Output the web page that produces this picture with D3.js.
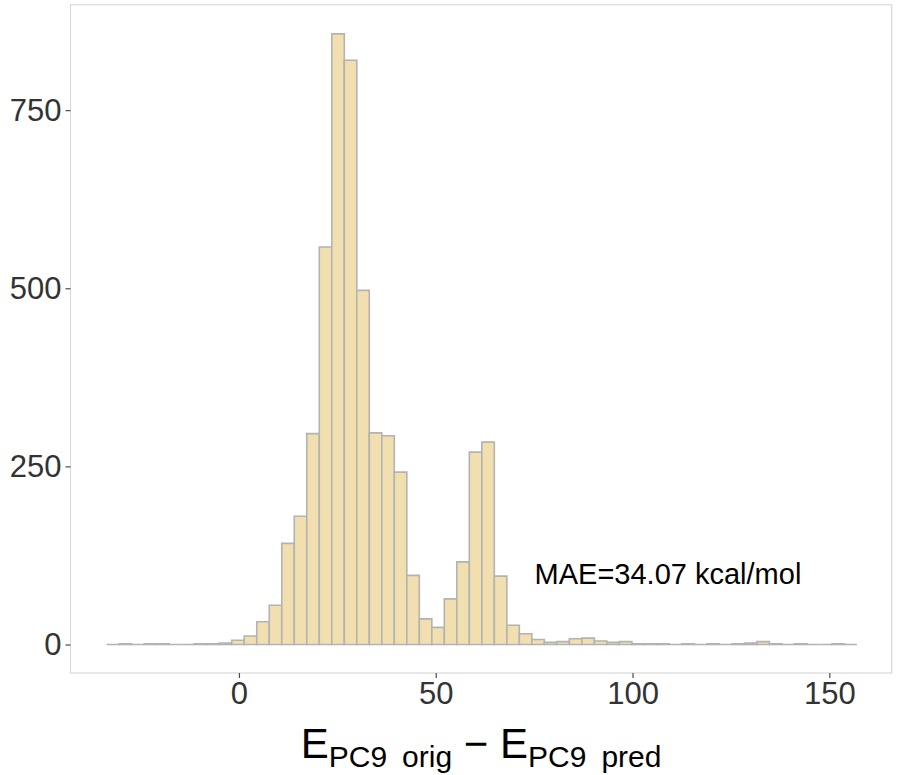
<!DOCTYPE html>
<html>
<head>
<meta charset="utf-8">
<script src="https://cdn.jsdelivr.net/npm/d3@7"></script>
<style>
  html, body { margin: 0; padding: 0; background: #fff; }
  svg { display: block; font-family: "Liberation Sans", Arial, sans-serif; }
</style>
</head>
<body>
<svg id="chart" width="898" height="775"></svg>
<script>
// ---- data ----
const binStart = -33.6;
const binWidth = 3.177;
const counts = [
  0, 1, 0, 1, 1, 0, 0, 1, 1, 2,
  6, 12, 32, 55, 142, 180, 296, 558, 857, 820,
  497, 297, 293, 242, 97, 36, 24, 64, 116, 270,
  284, 96, 27, 15, 7, 3, 4, 8, 9, 5,
  3, 4, 1, 1, 1, 0, 1, 0, 1, 0,
  1, 2, 4, 1, 0, 1, 0, 0, 1, 0
];
const xTicks = [0, 50, 100, 150];
const yTicks = [0, 250, 500, 750];
const annotation = { x: 109, y: 100, text: "MAE=34.07 kcal/mol" };

const bins = counts.map((c, i) => ({ x0: binStart + i * binWidth, x1: binStart + (i + 1) * binWidth, n: c }));

// ---- layout ----
const svg = d3.select("#chart");
const panel = { left: 70.5, right: 891.7, top: 4.7, bottom: 673 };

const x = d3.scaleLinear().domain([-42.8, 165.85]).range([panel.left, panel.right]);
const y = d3.scaleLinear().domain([-40, 898]).range([panel.bottom, panel.top]);

// panel border
svg.append("rect")
  .attr("x", panel.left).attr("y", panel.top)
  .attr("width", panel.right - panel.left).attr("height", panel.bottom - panel.top)
  .attr("fill", "none").attr("stroke", "#D9D9D9").attr("stroke-width", 1.2);

// bars (drawn as closed paths so zero-count bins still show their outline)
svg.append("g").selectAll("path")
  .data(bins).join("path")
  .attr("d", d => {
    const p = d3.path();
    p.rect(x(d.x0), y(d.n), x(d.x1) - x(d.x0), y(0) - y(d.n));
    return p.toString();
  })
  .attr("fill", "#F1DFAF")
  .attr("stroke", "#B3B3B3")
  .attr("stroke-width", 1.6);

// axes
const xAxis = svg.append("g")
  .attr("transform", `translate(0,${panel.bottom})`)
  .call(d3.axisBottom(x).tickValues(xTicks).tickSize(5).tickPadding(4).tickFormat(d3.format("d")));
const yAxis = svg.append("g")
  .attr("transform", `translate(${panel.left},0)`)
  .call(d3.axisLeft(y).tickValues(yTicks).tickSize(5).tickPadding(4).tickFormat(d3.format("d")));

[xAxis, yAxis].forEach(g => {
  g.select(".domain").remove();
  g.selectAll(".tick line").attr("stroke", "#4D4D4D").attr("stroke-width", 1.2);
  g.selectAll(".tick text")
    .attr("fill", "#333333")
    .style("font-size", "31px")
    .style("font-family", "'Liberation Sans', Arial, sans-serif");
});

// annotation
svg.append("text")
  .attr("x", x(annotation.x))
  .attr("y", y(annotation.y) + 11)
  .attr("text-anchor", "middle")
  .attr("fill", "#000")
  .style("font-size", "29px")
  .text(annotation.text);

// x axis title
const title = svg.append("text")
  .attr("x", (panel.left + panel.right) / 2)
  .attr("y", 758)
  .attr("text-anchor", "middle")
  .attr("fill", "#000")
  .style("font-size", "42px");
title.append("tspan").text("E");
title.append("tspan").attr("dy", 9).style("font-size", "30px").text("PC9\u2002orig");
title.append("tspan").attr("dy", -9).text(" \u2212 E");
title.append("tspan").attr("dy", 9).style("font-size", "30px").text("PC9\u2002pred");
</script>
</body>
</html>
